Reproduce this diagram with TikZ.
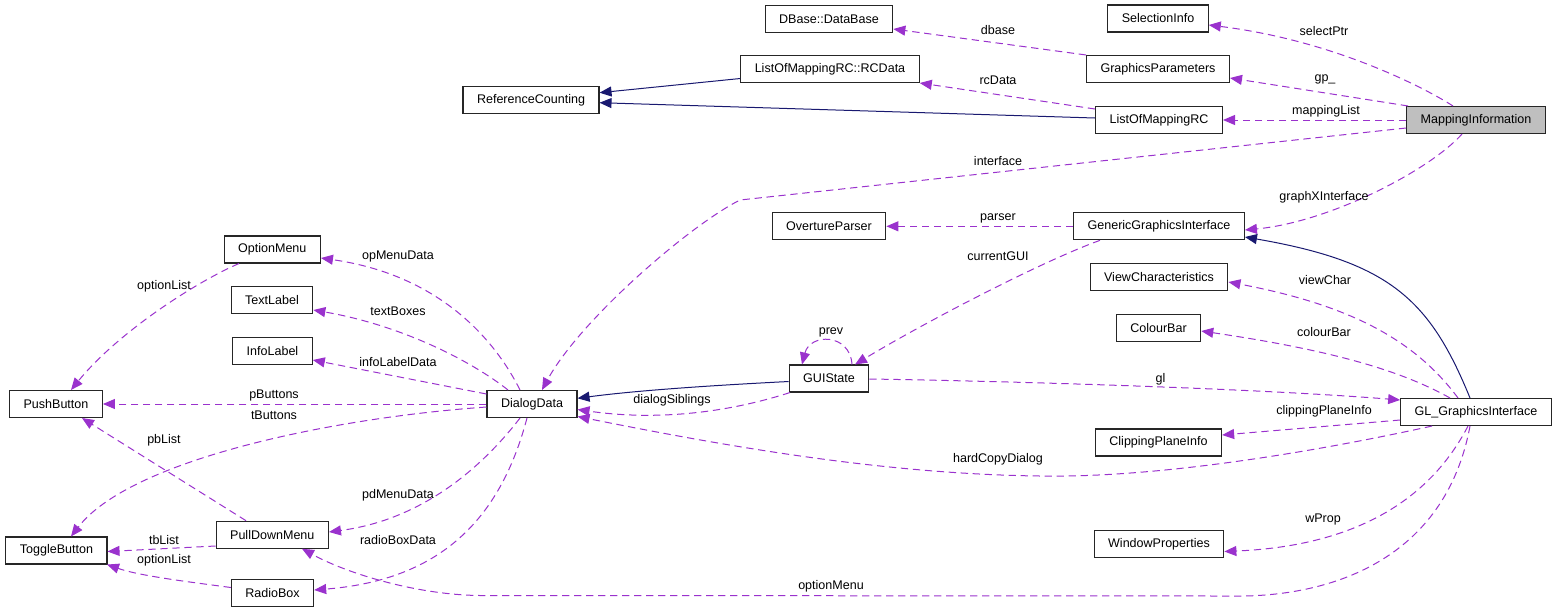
\documentclass[tikz,border=0pt]{standalone}
\usepackage{fontspec}
\setmainfont{Liberation Sans}
\usetikzlibrary{arrows.meta}
\definecolor{cRel}{HTML}{9A32CD}
\definecolor{cInh}{HTML}{191970}
\definecolor{cMi}{HTML}{BFBFBF}
\tikzset{
 cls/.style={draw=black!85, line width=0.8pt, minimum height=20.25pt, inner xsep=10.5pt, inner ysep=0pt, font=\fontsize{9.4}{11}\selectfont},
 relarrow/.style={color=cRel, line width=0.75pt, dash pattern=on 5.5pt off 3.5pt, -{Triangle[length=9pt,width=7.5pt]}},
 inharrow/.style={color=cInh, line width=0.75pt, -{Triangle[length=9pt,width=7.5pt]}},
 lbl/.style={font=\fontsize{9.4}{11}\selectfont, inner sep=0pt},
}
\begin{document}
\begin{tikzpicture}[x=0.75pt,y=-0.75pt]
\useasboundingbox (0,0) rectangle (1557,612);
% nodes
\node[cls] (si) at (1158,18.5) {SelectionInfo};
\node[cls] (gp) at (1158,69) {GraphicsParameters};
\node[cls] (lom) at (1159,120) {ListOfMappingRC};
\node[cls,fill=cMi] (mi) at (1476,120) {MappingInformation};
\node[cls] (rcd) at (830,69) {ListOfMappingRC::RCData};
\node[cls] (db) at (829,19) {DBase::DataBase};
\node[cls] (rc) at (531,100) {ReferenceCounting};
\node[cls] (op) at (829,226.3) {OvertureParser};
\node[cls] (ggi) at (1159,226.3) {GenericGraphicsInterface};
\node[cls] (vc) at (1159,277) {ViewCharacteristics};
\node[cls] (cb) at (1158.5,328) {ColourBar};
\node[cls] (gui) at (829,378.5) {GUIState};
\node[cls] (gl) at (1476,412) {GL\_GraphicsInterface};
\node[cls] (cpi) at (1158.5,442.5) {ClippingPlaneInfo};
\node[cls] (wp) at (1159,544) {WindowProperties};
\node[cls] (dd) at (532,404) {DialogData};
\node[cls] (om) at (272.3,249.5) {OptionMenu};
\node[cls] (tl) at (272,300) {TextLabel};
\node[cls] (il) at (272.5,351) {InfoLabel};
\node[cls] (pb) at (56,404) {PushButton};
\node[cls] (pdm) at (272.3,534.7) {PullDownMenu};
\node[cls] (tb) at (56.4,550.5) {ToggleButton};
\node[cls] (rb) at (272.5,593) {RadioBox};

% MappingInformation relations
\draw[relarrow] (1453,0 |- mi.north) .. controls (1420,85) and (1330,40) .. (si.east |- 0,25);
\node[lbl] (l1) at (1324,31) {selectPtr};
\draw[relarrow] (1408,0 |- mi.north) -- (gp.east |- 0,78);
\node[lbl] (l2) at (1325,79) {gp\_};
\draw[relarrow] (mi.west |- 0,120) -- (lom.east |- 0,120);
\node[lbl] (l3) at (1326,111) {mappingList};
\draw[relarrow] (mi.west |- 0,128) -- (740,200) .. controls (690,225) and (580,320) .. (542,0 |- dd.north);
\node[lbl] (l4) at (998,161) {interface};
\draw[relarrow] (1462,0 |- mi.south) .. controls (1430,170) and (1330,222) .. (ggi.east |- 0,230);
\node[lbl] (l5) at (1324,197) {graphXInterface};

% GraphicsParameters, ListOfMappingRC
\draw[relarrow] (gp.north west) -- (db.east |- 0,29);
\node[lbl] (l6) at (998,30.5) {dbase};
\draw[relarrow] (lom.west |- 0,109) -- (rcd.east |- 0,83);
\node[lbl] (l7) at (998,80) {rcData};
\draw[inharrow] (rcd.west |- 0,78.5) -- (rc.east |- 0,92.7);
\draw[inharrow] (lom.west |- 0,118) -- (rc.east |- 0,102.7);

% GenericGraphicsInterface
\draw[relarrow] (ggi.west |- 0,226.3) -- (op.east |- 0,226.3);
\node[lbl] (l8) at (998,218.5) {parser};
\draw[relarrow] (1100,0 |- ggi.south) .. controls (1040,262) and (920,325) .. (855,0 |- gui.north);
\node[lbl] (l9) at (998,256.5) {currentGUI};

% GUIState
\draw[relarrow] (852,0 |- gui.north) .. controls (850,333) and (810,333) .. (802,0 |- gui.north);
\node[lbl] (l10) at (831,332) {prev};
\draw[inharrow] (gui.west |- 0,381.5) .. controls (720,385) and (640,390) .. (dd.east |- 0,398.3);
\draw[relarrow] (790,0 |- gui.south) .. controls (720,415) and (650,420) .. (dd.east |- 0,409.5);
\node[lbl] (l11) at (672,400.5) {dialogSiblings};
\draw[relarrow] (gui.east |- 0,379) .. controls (1000,381) and (1250,388) .. (gl.west |- 0,400);
\node[lbl] (l12) at (1160.5,379) {gl};

% GL_GraphicsInterface
\draw[inharrow] (1470,0 |- gl.north) .. controls (1430,300) and (1390,262) .. (ggi.east |- 0,237);
\draw[relarrow] (1458,0 |- gl.north) .. controls (1415,340) and (1350,305) .. (vc.east |- 0,282);
\node[lbl] (l13) at (1325,280.5) {viewChar};
\draw[relarrow] (1450,0 |- gl.north) .. controls (1400,370) and (1330,350) .. (cb.east |- 0,331);
\node[lbl] (l14) at (1324,332.5) {colourBar};
\draw[relarrow] (gl.west |- 0,420) -- (cpi.east |- 0,435);
\node[lbl] (l15) at (1324,411.5) {clippingPlaneInfo};
\draw[relarrow] (1432,0 |- gl.south) .. controls (1300,455) and (1150,478) .. (1040,476) .. controls (880,474) and (720,445) .. (dd.east |- 0,416.5);
\node[lbl] (l16) at (998,459) {hardCopyDialog};
\draw[relarrow] (1468,0 |- gl.south) .. controls (1440,480) and (1380,545) .. (wp.east |- 0,551.5);
\node[lbl] (l17) at (1323,519.5) {wProp};
\draw[relarrow] (1470,0 |- gl.south) .. controls (1445,560) and (1330,598) .. (1230,596) -- (480,595.5) .. controls (420,595) and (350,575) .. (302,0 |- pdm.south);
\node[lbl] (l18) at (831,586.5) {optionMenu};

% DialogData
\draw[relarrow] (520,0 |- dd.north) .. controls (495,340) and (440,275) .. (om.east |- 0,258);
\node[lbl] (l19) at (398,256.5) {opMenuData};
\draw[relarrow] (508,0 |- dd.north) .. controls (470,360) and (400,325) .. (tl.east |- 0,310);
\node[lbl] (l20) at (398,311.5) {textBoxes};
\draw[relarrow] (dd.west |- 0,394) -- (il.east |- 0,360);
\node[lbl] (l21) at (398,362.5) {infoLabelData};
\draw[relarrow] (dd.west |- 0,404) -- (pb.east |- 0,404);
\node[lbl] (l22) at (274,395.5) {pButtons};
\draw[relarrow] (dd.west |- 0,407) .. controls (330,418) and (130,460) .. (71,0 |- tb.north);
\node[lbl] (l23) at (274,415.5) {tButtons};
\draw[relarrow] (520,0 |- dd.south) .. controls (480,470) and (420,520) .. (pdm.east |- 0,532);
\node[lbl] (l24) at (398,495) {pdMenuData};
\draw[relarrow] (527,0 |- dd.south) .. controls (500,520) and (440,580) .. (rb.east |- 0,590);
\node[lbl] (l25) at (398,540.5) {radioBoxData};

% Widgets
\draw[relarrow] (239,0 |- om.south) .. controls (200,280) and (120,330) .. (71,0 |- pb.north);
\node[lbl] (l26) at (164,286.5) {optionList};
\draw[relarrow] (246,0 |- pdm.north) -- (82,0 |- pb.south);
\node[lbl] (l27) at (164,440) {pbList};
\draw[relarrow] (pdm.west |- 0,546) -- (tb.east |- 0,551.5);
\node[lbl] (l28) at (164,540.5) {tbList};
\draw[relarrow] (rb.west |- 0,587.5) .. controls (190,582) and (140,576) .. (107,0 |- tb.south);
\node[lbl] (l29) at (164,560) {optionList};
\end{tikzpicture}
\end{document}
